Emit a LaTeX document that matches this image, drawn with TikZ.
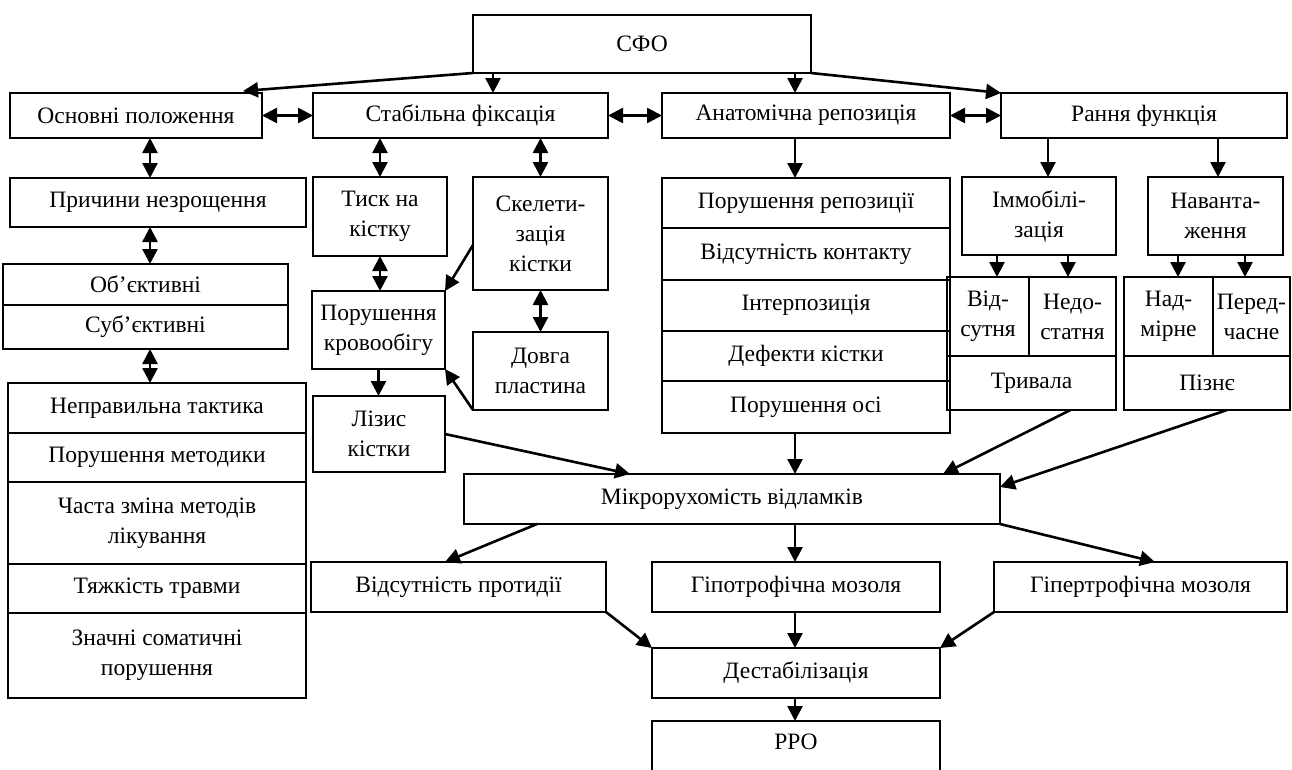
\documentclass[tikz,border=0pt]{standalone}
\usepackage{fontspec}
\setmainfont{Liberation Serif}
\usetikzlibrary{arrows.meta,calc}
\tikzset{
  box/.style={draw, line width=1.8pt, inner sep=0pt, outer sep=0pt, align=center,
    font=\fontsize{23.5}{30}\selectfont},
  arr/.style={line width=2.6pt, -{Triangle[length=15pt,width=15pt]}},
  darr/.style={line width=2.6pt, {Triangle[length=15pt,width=15pt]}-{Triangle[length=15pt,width=15pt]}},
}
\newcommand{\bx}[6]{\node[box, minimum width=#4pt, minimum height=#5pt] (#1) at (#2,#3) {#6};}
\begin{document}
\begin{tikzpicture}[x=1pt,y=-1pt]
\clip (0,0) rectangle (1292,769);
\fill[white] (0,0) rectangle (1292,769);
% top
\bx{sfo}{642}{44}{338}{58}{СФО}
\bx{osn}{136}{115.5}{252}{45}{Основні положення}
\bx{stab}{460.5}{115.5}{295}{45}{Стабільна фіксація}
\bx{anat}{806}{115.5}{288}{45}{Анатомічна репозиція}
\bx{rann}{1144}{115.5}{286}{45}{Рання функція}
% left column
\bx{prych}{158}{202.5}{296}{49}{Причини незрощення}
\bx{obj}{145.5}{284.5}{285}{41}{Об’єктивні}
\bx{sub}{145.5}{327}{285}{44}{Суб’єктивні}
\bx{l1}{157}{408}{298}{50}{Неправильна тактика}
\bx{l2}{157}{457.5}{298}{49}{Порушення методики}
\bx{l3}{157}{523}{298}{82}{Часта зміна методів\\лікування}
\bx{l4}{157}{588.5}{298}{49}{Тяжкість травми}
\bx{l5}{157}{655.5}{298}{85}{Значні соматичні\\порушення}
% fixation column
\bx{tysk}{380}{216.5}{134}{79}{Тиск на\\кістку}
\bx{skel}{540.5}{233.5}{135}{113}{Скелети-\\зація\\кістки}
\bx{krov}{378.5}{330}{133}{78}{Порушення\\кровообігу}
\bx{dovg}{540.5}{371}{135}{78}{Довга\\пластина}
\bx{lizis}{379}{434}{132}{76}{Лізис\\кістки}
% reposition column
\bx{por1}{806}{203}{288}{50}{Порушення репозиції}
\bx{por2}{806}{254}{288}{52}{Відсутність контакту}
\bx{por3}{806}{305.5}{288}{51}{Інтерпозиція}
\bx{por4}{806}{356}{288}{50}{Дефекти кістки}
\bx{por5}{806}{407}{288}{52}{Порушення осі}
% function column
\bx{imm}{1039}{216}{154}{78}{Іммобілі-\\зація}
\bx{nav}{1215.5}{216}{135}{78}{Наванта-\\ження}
\bx{vids}{988}{316.5}{82}{79}{Від-\\сутня}
\bx{nedo}{1072.5}{316.5}{87}{79}{Недо-\\статня}
\bx{tryv}{1031.5}{383}{169}{54}{Тривала}
\bx{nadm}{1168.5}{316.5}{89}{79}{Над-\\мірне}
\bx{pered}{1251.5}{316.5}{77}{79}{Перед-\\часне}
\bx{pizn}{1207}{383}{166}{54}{Пізнє}
% bottom
\bx{mikro}{732}{499}{536}{50}{Мікрорухомість відламків}
\bx{vidp}{458.5}{587}{295}{50}{Відсутність протидії}
\bx{hipo}{796}{587}{288}{50}{Гіпотрофічна мозоля}
\bx{hiper}{1140.5}{587}{293}{50}{Гіпертрофічна мозоля}
\bx{dest}{796}{673}{288}{50}{Дестабілізація}
\bx{rro}{796}{749}{288}{56}{\raisebox{14pt}{РРО}}
% helper x coordinates
\coordinate (x150) at (150,0);
\coordinate (x493) at (493,0);
\coordinate (x795) at (795,0);
\coordinate (x1048) at (1048,0);
\coordinate (x1218) at (1218,0);
\coordinate (x997) at (997,0);
\coordinate (x1068) at (1068,0);
\coordinate (x1178) at (1178,0);
\coordinate (x1245) at (1245,0);
% SFO arrows
\draw[arr] (sfo.south west) -- ($(osn.north east)+(-19,-2)$);
\draw[arr] (sfo.south -| x493) -- (stab.north -| x493);
\draw[arr] (sfo.south -| x795) -- (anat.north -| x795);
\draw[arr] (sfo.south east) -- (rann.north west);
% horizontal double arrows
\draw[darr] (osn.east) -- (stab.west);
\draw[darr] (stab.east) -- (anat.west);
\draw[darr] (anat.east) -- (rann.west);
% left column
\draw[darr] (osn.south -| x150) -- (prych.north -| x150);
\draw[darr] (prych.south -| x150) -- (obj.north -| x150);
\draw[darr] (sub.south -| x150) -- (l1.north -| x150);
% fixation column
\draw[darr] (stab.south -| tysk.north) -- (tysk.north);
\draw[darr] (stab.south -| skel.north) -- (skel.north);
\draw[darr] (tysk.south) -- (tysk.south |- krov.north);
\draw[darr] (skel.south) -- (dovg.north);
\draw[arr] ($(skel.west)+(0,11.5)$) -- (krov.north east);
\draw[arr] (dovg.south west) -- (krov.south east);
\draw[arr] (krov.south) -- (krov.south |- lizis.north);
\draw[arr] (lizis.east) -- ($(mikro.north west)+(166,0)$);
% reposition
\draw[arr] (anat.south -| x795) -- (por1.north -| x795);
\draw[arr] (por5.south -| x795) -- (mikro.north -| x795);
% function
\draw[arr] (rann.south -| x1048) -- (imm.north -| x1048);
\draw[arr] (rann.south -| x1218) -- (nav.north -| x1218);
\draw[arr] (imm.south -| x997) -- (vids.north -| x997);
\draw[arr] (imm.south -| x1068) -- (nedo.north -| x1068);
\draw[arr] (nav.south -| x1178) -- (nadm.north -| x1178);
\draw[arr] (nav.south -| x1245) -- (pered.north -| x1245);
\draw[arr] ($(tryv.south)+(39,0)$) -- ($(mikro.north east)+(-57,0)$);
\draw[arr] ($(pizn.south)+(20,0)$) -- ($(mikro.east)+(0,-12)$);
% bottom
\draw[arr] ($(mikro.south west)+(73,0)$) -- ($(vidp.north east)+(-161,0)$);
\draw[arr] (mikro.south -| x795) -- (hipo.north -| x795);
\draw[arr] (mikro.south east) -- ($(hiper.north west)+(161,0)$);
\draw[arr] (vidp.south east) -- (dest.north west);
\draw[arr] (hipo.south -| x795) -- (dest.north -| x795);
\draw[arr] (hiper.south west) -- (dest.north east);
\draw[arr] (dest.south -| x795) -- (rro.north -| x795);
\end{tikzpicture}
\end{document}
